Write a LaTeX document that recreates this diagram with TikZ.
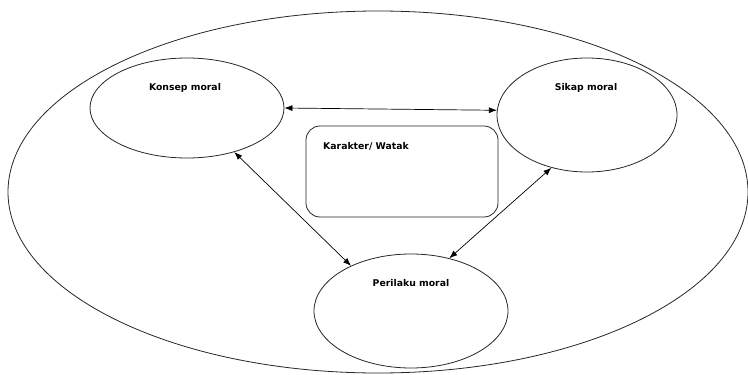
\documentclass[tikz,border=0pt]{standalone}
\usepackage{fontspec}
\setmainfont{DejaVu Sans}
\usetikzlibrary{arrows.meta,shapes.geometric}
\begin{document}
\begin{tikzpicture}[x=1pt,y=-1pt,
  oval/.style={draw=black!85,line width=0.8pt,ellipse,inner sep=0pt},
  lbl/.style={font=\bfseries\fontsize{9.3}{11}\selectfont,inner sep=0pt},
  link/.style={draw=black,line width=0.7pt,{Latex[length=8pt,width=6pt]}-{Latex[length=8pt,width=6pt]}}]
\useasboundingbox (0,0) rectangle (748,375);
\node[oval,minimum width=740pt,minimum height=362pt] (outer) at (378,192) {};
\node[oval,minimum width=194pt,minimum height=100pt] (konsep) at (187,108) {};
\node[oval,minimum width=180pt,minimum height=114pt] (sikap) at (587,115) {};
\node[oval,minimum width=194pt,minimum height=114pt] (perilaku) at (411,311) {};
\node[draw=black!85,line width=0.8pt,rounded corners=14pt,minimum width=192pt,minimum height=91pt,inner sep=0pt] (box) at (402,171.5) {};
\node[lbl] (tk) at (185,88) {Konsep moral};
\node[lbl] (ts) at (586,88) {Sikap moral};
\node[lbl] (tp) at (411,283) {Perilaku moral};
\node[lbl,anchor=west] (tb) at (323,146) {Karakter/ Watak};
\draw[link] (konsep.east) -- (sikap.177);
\draw[link] (konsep.-43) -- (perilaku.143);
\draw[link] (sikap.236) -- (perilaku.54);
\end{tikzpicture}
\end{document}
